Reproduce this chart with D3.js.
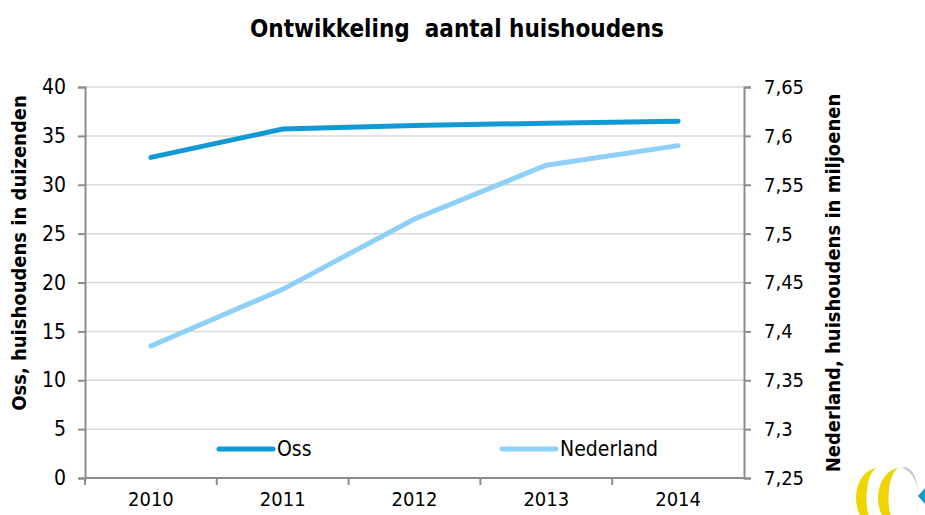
<!DOCTYPE html>
<html>
<head>
<meta charset="utf-8">
<script src="https://cdn.jsdelivr.net/npm/d3@7"></script>
<style>
  body { margin: 0; background: #fff; }
  svg { display: block; font-family: "DejaVu Sans Condensed", "DejaVu Sans", sans-serif; font-stretch: condensed; }
</style>
</head>
<body>
<svg id="chart"></svg>
<script>
const years = ["2010", "2011", "2012", "2013", "2014"];
const oss = [32.8, 35.7, 36.05, 36.3, 36.5];          // duizenden
const nederland = [7.385, 7.443, 7.515, 7.570, 7.590]; // miljoenen
const leftTicks = [0, 5, 10, 15, 20, 25, 30, 35, 40];
const rightTicks = [7.25, 7.3, 7.35, 7.4, 7.45, 7.5, 7.55, 7.6, 7.65];

const SIZE = { width: 925, height: 515 };
const PLOT = { left: 85, right: 744, top: 87, bottom: 478 };
const FONT = "DejaVu Sans Condensed, DejaVu Sans, sans-serif";

const svg = d3.select("svg#chart").attr("width", SIZE.width).attr("height", SIZE.height);

const x = d3.scaleBand().domain(years).range([PLOT.left, PLOT.right]);
const yL = d3.scaleLinear().domain([0, 40]).range([PLOT.bottom, PLOT.top]);
const yR = d3.scaleLinear().domain([7.25, 7.65]).range([PLOT.bottom, PLOT.top]);
const fmt = d => String(d).replace(".", ",");

// gridlines
svg.append("g").selectAll("line").data(leftTicks.slice(1)).enter().append("line")
  .attr("x1", PLOT.left).attr("x2", PLOT.right)
  .attr("y1", d => yL(d)).attr("y2", d => yL(d))
  .attr("stroke", "#d9d9d9").attr("stroke-width", 1.5);

// left axis
const gL = svg.append("g").attr("transform", `translate(${PLOT.left},0)`)
  .call(d3.axisLeft(yL).tickValues(leftTicks).tickSize(7).tickPadding(12));
// right axis
const gR = svg.append("g").attr("transform", `translate(${PLOT.right},0)`)
  .call(d3.axisRight(yR).tickValues(rightTicks).tickSize(7).tickPadding(13).tickFormat(fmt));
// x axis
const gX = svg.append("g").attr("transform", `translate(0,${PLOT.bottom})`)
  .call(d3.axisBottom(x).tickSize(0).tickPadding(14));
gX.selectAll(".tick").append("line")
  .attr("x1", -x.bandwidth() / 2).attr("x2", -x.bandwidth() / 2).attr("y2", 7);
gX.append("line").attr("x1", PLOT.right).attr("x2", PLOT.right).attr("y2", 7);

[gL, gR, gX].forEach(g => {
  g.select(".domain").attr("stroke", "#8c8c8c").attr("stroke-width", 2);
  g.selectAll(".tick line").attr("stroke", "#8c8c8c").attr("stroke-width", 2);
  g.selectAll("text").attr("fill", "#000").attr("font-size", 20).attr("font-family", FONT);
});
gL.selectAll("text").attr("font-size", 21);
gX.select(".domain").attr("d", `M${PLOT.left},0H${PLOT.right}`);

// lines
const lineL = d3.line().x((d, i) => x(years[i]) + x.bandwidth() / 2).y(d => yL(d));
const lineR = d3.line().x((d, i) => x(years[i]) + x.bandwidth() / 2).y(d => yR(d));
svg.append("path").attr("d", lineR(nederland)).attr("fill", "none")
  .attr("stroke", "#8ed0f7").attr("stroke-width", 5).attr("stroke-linecap", "round");
svg.append("path").attr("d", lineL(oss)).attr("fill", "none")
  .attr("stroke", "#1199d5").attr("stroke-width", 5).attr("stroke-linecap", "round");

// legend
const legend = [
  { name: "Oss", color: "#1199d5", x: 219 },
  { name: "Nederland", color: "#8ed0f7", x: 502 }
];
const lg = svg.append("g").selectAll("g").data(legend).enter().append("g")
  .attr("transform", d => `translate(${d.x},449)`);
lg.append("line").attr("x1", 0).attr("x2", 54).attr("stroke", d => d.color)
  .attr("stroke-width", 5).attr("stroke-linecap", "round");
lg.append("text").attr("x", 58).attr("dy", "0.35em").attr("font-size", 21).text(d => d.name);

// titles
svg.append("text").attr("x", 457).attr("y", 37).attr("text-anchor", "middle")
  .style("white-space", "pre")
  .attr("font-size", 24).attr("font-weight", "bold").text("Ontwikkeling  aantal huishoudens");
svg.append("text").attr("transform", "translate(26,253) rotate(-90)").attr("text-anchor", "middle")
  .attr("font-size", 20).attr("font-weight", "bold").text("Oss, huishoudens in duizenden");
svg.append("text").attr("transform", "translate(840,283) rotate(-90)").attr("text-anchor", "middle")
  .attr("font-size", 20).attr("font-weight", "bold").text("Nederland, huishoudens in miljoenen");

// logo (decorative rings, cut off by the bottom edge)
const logo = svg.append("g").attr("transform", "translate(878,498)");
const ring = "M6,-30 A22,30 0 0 0 6,30 A10,26 0 0 1 6,-30Z";
logo.append("path").attr("d", "M24,-30 A20,30 0 0 1 30,26 A12,26 0 0 0 24,-30Z")
  .attr("fill", "#c8c8c8");
logo.append("path").attr("d", ring).attr("fill", "#f0d400").attr("transform", "translate(-6,0)");
logo.append("path").attr("d", ring).attr("fill", "#f0d400").attr("transform", "translate(16,0)");
logo.append("path").attr("d", "M40,-2 L47,-10 L47,6 Z").attr("fill", "#1199d5");
</script>
</body>
</html>
